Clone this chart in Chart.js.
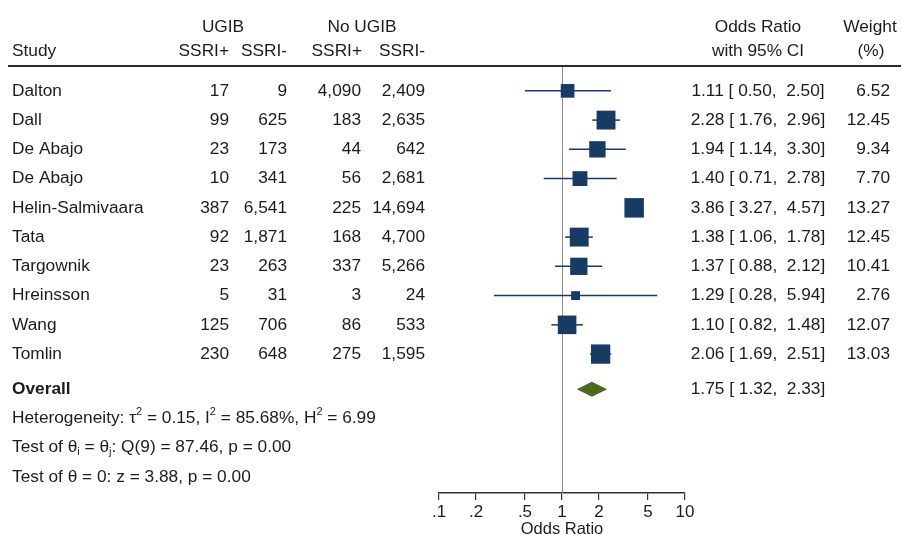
<!DOCTYPE html>
<html>
<head>
<meta charset="utf-8">
<script src="https://cdn.jsdelivr.net/npm/chart.js@4.4.0/dist/chart.umd.min.js"></script>
<style>
  html, body { margin: 0; padding: 0; background: #ffffff; }
  canvas { display: block; }
</style>
</head>
<body>
<canvas id="forest" width="902" height="535"></canvas>
<script>
// ---- study data ----
const studies = ['Dalton', 'Dall', 'De Abajo', 'De Abajo', 'Helin-Salmivaara', 'Tata', 'Targownik', 'Hreinsson', 'Wang', 'Tomlin'];
const ugibSsriPos   = [17, 99, 23, 10, 387, 92, 23, 5, 125, 230];
const ugibSsriNeg   = [9, 625, 173, 341, 6541, 1871, 263, 31, 706, 648];
const noUgibSsriPos = [4090, 183, 44, 56, 225, 168, 337, 3, 86, 275];
const noUgibSsriNeg = [2409, 2635, 642, 2681, 14694, 4700, 5266, 24, 533, 1595];
const oddsRatio = [1.11, 2.28, 1.94, 1.40, 3.86, 1.38, 1.37, 1.29, 1.10, 2.06];
const ciLow     = [0.50, 1.76, 1.14, 0.71, 3.27, 1.06, 0.88, 0.28, 0.82, 1.69];
const ciHigh    = [2.50, 2.96, 3.30, 2.78, 4.57, 1.78, 2.12, 5.94, 1.48, 2.51];
const weights   = [6.52, 12.45, 9.34, 7.70, 13.27, 12.45, 10.41, 2.76, 12.07, 13.03];

// ---- pooled estimate ----
const overallOR = 1.75;
const overallLow = 1.32;
const overallHigh = 2.33;

// ---- axis ----
const xTicks = [0.1, 0.2, 0.5, 1, 2, 5, 10];
const xTickLabels = ['.1', '.2', '.5', '1', '2', '5', '10'];

// ---- styling ----
const FONT = '"Liberation Sans", Arial, Helvetica, sans-serif';
const TEXT = '#1c1c1c';
const NAVY = '#183b66';
const OLIVE = '#4a6a1c';
const TABLE_PX = 17.3;

// row positions on the (reversed) y scale
const rowOf = i => i + 1;
const overallRow = studies.length + 1.2;
const statRows = [overallRow + 1, overallRow + 2, overallRow + 3];
const headRow1 = -1.18;
const headRow2 = -0.36;

const fmt2 = v => v.toFixed(2);
const pad5 = v => v.toFixed(2).padStart(5, ' ');
const ciText = (o, l, h) => `${fmt2(o)} [${pad5(l)}, ${pad5(h)}]`;
const count = v => v.toLocaleString('en-US');

function textAt(ctx, str, x, y, align, bold) {
  ctx.font = `${bold ? 'bold ' : ''}${TABLE_PX}px ${FONT}`;
  ctx.textAlign = align;
  ctx.textBaseline = 'middle';
  ctx.fillStyle = TEXT;
  ctx.fillText(str, x, y);
}

// text with superscript / subscript runs
function richText(ctx, parts, x, y) {
  ctx.textAlign = 'left';
  ctx.textBaseline = 'middle';
  ctx.fillStyle = TEXT;
  let cx = x;
  for (const p of parts) {
    let dy = 0;
    if (p.sup) { ctx.font = `11px ${FONT}`; dy = -6; }
    else if (p.sub) { ctx.font = `11px ${FONT}`; dy = 4; }
    else { ctx.font = `${TABLE_PX}px ${FONT}`; }
    ctx.fillText(p.t, cx, y + dy);
    cx += ctx.measureText(p.t).width;
  }
}

const forestPlugin = {
  id: 'forest',
  beforeDatasetsDraw(chart) {
    const { ctx, chartArea, scales: { x, y } } = chart;
    ctx.save();
    // line of no effect
    const x1 = Math.round(x.getPixelForValue(1)) + 0.5;
    ctx.strokeStyle = '#8f8f8f';
    ctx.lineWidth = 1;
    ctx.beginPath();
    ctx.moveTo(x1, chartArea.top);
    ctx.lineTo(x1, chartArea.bottom);
    ctx.stroke();
    // confidence intervals
    ctx.strokeStyle = NAVY;
    ctx.lineWidth = 1.5;
    studies.forEach((s, i) => {
      const py = y.getPixelForValue(rowOf(i));
      ctx.beginPath();
      ctx.moveTo(x.getPixelForValue(ciLow[i]), py);
      ctx.lineTo(x.getPixelForValue(ciHigh[i]), py);
      ctx.stroke();
    });
    // pooled diamond
    const oy = y.getPixelForValue(overallRow);
    const half = 7.5;
    ctx.fillStyle = OLIVE;
    ctx.beginPath();
    ctx.moveTo(x.getPixelForValue(overallLow), oy);
    ctx.lineTo(x.getPixelForValue(overallOR), oy - half);
    ctx.lineTo(x.getPixelForValue(overallHigh), oy);
    ctx.lineTo(x.getPixelForValue(overallOR), oy + half);
    ctx.closePath();
    ctx.fill();
    ctx.restore();
  },
  afterDraw(chart) {
    const { ctx, chartArea, scales: { y } } = chart;
    ctx.save();
    const h1 = y.getPixelForValue(headRow1);
    const h2 = y.getPixelForValue(headRow2);
    // header
    textAt(ctx, 'UGIB', 223, h1, 'center');
    textAt(ctx, 'No UGIB', 362, h1, 'center');
    textAt(ctx, 'Odds Ratio', 758, h1, 'center');
    textAt(ctx, 'Weight', 870, h1, 'center');
    textAt(ctx, 'Study', 12, h2, 'left');
    textAt(ctx, 'SSRI+', 229, h2, 'right');
    textAt(ctx, 'SSRI-', 287, h2, 'right');
    textAt(ctx, 'SSRI+', 362, h2, 'right');
    textAt(ctx, 'SSRI-', 425, h2, 'right');
    textAt(ctx, 'with 95% CI', 758, h2, 'center');
    textAt(ctx, '(%)', 871, h2, 'center');
    // header rule
    ctx.fillStyle = '#2a2a2a';
    ctx.fillRect(8, chartArea.top - 1, 893, 2);
    // study rows
    studies.forEach((s, i) => {
      const py = y.getPixelForValue(rowOf(i));
      textAt(ctx, s, 12, py, 'left');
      textAt(ctx, count(ugibSsriPos[i]), 229, py, 'right');
      textAt(ctx, count(ugibSsriNeg[i]), 287, py, 'right');
      textAt(ctx, count(noUgibSsriPos[i]), 361, py, 'right');
      textAt(ctx, count(noUgibSsriNeg[i]), 425, py, 'right');
      textAt(ctx, ciText(oddsRatio[i], ciLow[i], ciHigh[i]), 758, py, 'center');
      textAt(ctx, fmt2(weights[i]), 890, py, 'right');
    });
    // pooled row and statistics
    const oy = y.getPixelForValue(overallRow);
    textAt(ctx, 'Overall', 12, oy, 'left', true);
    textAt(ctx, ciText(overallOR, overallLow, overallHigh), 758, oy, 'center');
    richText(ctx, [
      { t: 'Heterogeneity: \u03C4' }, { t: '2', sup: true },
      { t: ' = 0.15, I' }, { t: '2', sup: true },
      { t: ' = 85.68%, H' }, { t: '2', sup: true },
      { t: ' = 6.99' }
    ], 12, y.getPixelForValue(statRows[0]));
    richText(ctx, [
      { t: 'Test of \u03B8' }, { t: 'i', sub: true },
      { t: ' = \u03B8' }, { t: 'j', sub: true },
      { t: ': Q(9) = 87.46, p = 0.00' }
    ], 12, y.getPixelForValue(statRows[1]));
    richText(ctx, [{ t: 'Test of \u03B8 = 0: z = 3.88, p = 0.00' }], 12, y.getPixelForValue(statRows[2]));
    ctx.restore();
  }
};

new Chart(document.getElementById('forest'), {
  type: 'scatter',
  data: {
    datasets: [{
      data: studies.map((s, i) => ({ x: oddsRatio[i], y: rowOf(i) })),
      pointStyle: 'rect',
      pointRadius: c => 5.35 * Math.sqrt(weights[c.dataIndex]) / Math.SQRT2,
      backgroundColor: NAVY,
      borderColor: NAVY,
      borderWidth: 0
    }]
  },
  options: {
    responsive: false,
    animation: false,
    events: [],
    layout: { padding: { left: 439, right: 217, top: 66, bottom: 0 } },
    plugins: { legend: { display: false }, tooltip: { enabled: false } },
    scales: {
      x: {
        type: 'logarithmic',
        min: 0.1,
        max: 10,
        afterBuildTicks: s => { s.ticks = xTicks.map(v => ({ value: v })); },
        afterFit: s => { s.height = 42; },
        ticks: {
          autoSkip: false,
          maxRotation: 0,
          color: TEXT,
          padding: 2,
          font: { family: FONT, size: 17 },
          callback: (v, i) => xTickLabels[i]
        },
        grid: { drawOnChartArea: false, drawTicks: true, tickLength: 7, color: '#333333', lineWidth: 1.2 },
        border: { display: true, color: '#333333', width: 1.5 },
        title: {
          display: true,
          text: 'Odds Ratio',
          color: TEXT,
          font: { family: FONT, size: 16.5, lineHeight: 1 },
          padding: { top: 0, bottom: -3 }
        }
      },
      y: {
        type: 'linear',
        reverse: true,
        min: 0.15,
        max: 14.75,
        display: false
      }
    }
  },
  plugins: [forestPlugin]
});
</script>
</body>
</html>
